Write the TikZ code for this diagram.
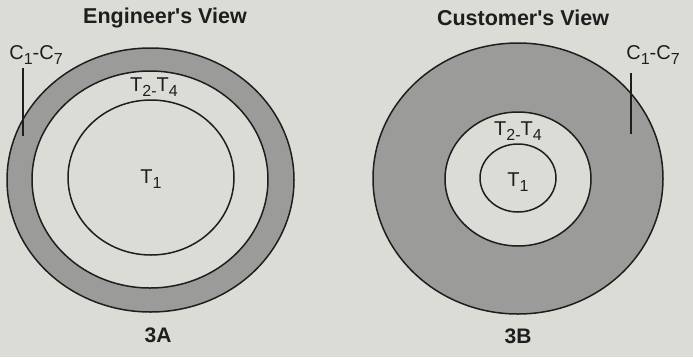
\documentclass[tikz,border=0pt]{standalone}
\usepackage{fontspec}
\setmainfont{Liberation Sans}
\usetikzlibrary{shapes.geometric,patterns}
\definecolor{bg}{RGB}{220,220,215}
\definecolor{ring}{RGB}{155,155,153}
\definecolor{ink}{RGB}{30,30,30}
\newcommand{\dn}[1]{\raisebox{-5pt}{\fontsize{16}{16}\selectfont #1}}
\tikzset{
  ell/.style={ellipse, draw=ink, line width=1.5pt, inner sep=0pt},
  ringfill/.style={ell, fill=ring},
  holefill/.style={ell, fill=bg},
  title/.style={font=\bfseries\fontsize{21.5}{24}\selectfont, text=ink},
  lbl/.style={font=\fontsize{20}{22}\selectfont, text=ink, inner sep=0pt},
  fig/.style={font=\bfseries\fontsize{21}{24}\selectfont, text=ink},
  leader/.style={draw=ink, line width=1.3pt}
}
\begin{document}
\begin{tikzpicture}[x=1pt,y=-1pt]
\fill[bg] (0,0) rectangle (693,357);
\useasboundingbox (0,0) rectangle (693,357);
% left figure
\node[ringfill, minimum width=287pt, minimum height=264pt] (Lout) at (150.5,180) {};
\node[holefill, minimum width=236pt, minimum height=217pt] (Lmid) at (150,179.5) {};
\node[ell, minimum width=166pt, minimum height=155pt] (Lin) at (151,177.5) {};
\node[title] (Ltitle) at (165,18) {Engineer\textquotesingle s View};
\node[lbl] (LC) at (36,55) {C\dn{1}-C\dn{7}};
\coordinate (LCend) at (23,136);
\draw[leader] (23,68) -- (LCend);
\node[lbl] (LT) at (154,87) {T\dn{2-}T\dn{4}};
\node[lbl] (LT1) at (151,179) {T\dn{1}};
\node[fig] (LA) at (158,335) {3A};
% right figure
\node[ringfill, minimum width=290pt, minimum height=271pt] (Rout) at (518,178.5) {};
\node[holefill, minimum width=146pt, minimum height=134pt] (Rmid) at (518,179) {};
\node[ell, minimum width=76pt, minimum height=68pt] (Rin) at (518,178) {};
\node[title] (Rtitle) at (523,18) {Customer\textquotesingle s View};
\node[lbl] (RC) at (653,55) {C\dn{1}-C\dn{7}};
\coordinate (RCend) at (631,134);
\draw[leader] (631,73) -- (RCend);
\node[lbl] (RT) at (518,131) {T\dn{2-}T\dn{4}};
\node[lbl] (RT1) at (518,182) {T\dn{1}};
\node[fig] (RB) at (518,336) {3B};
\end{tikzpicture}
\end{document}
